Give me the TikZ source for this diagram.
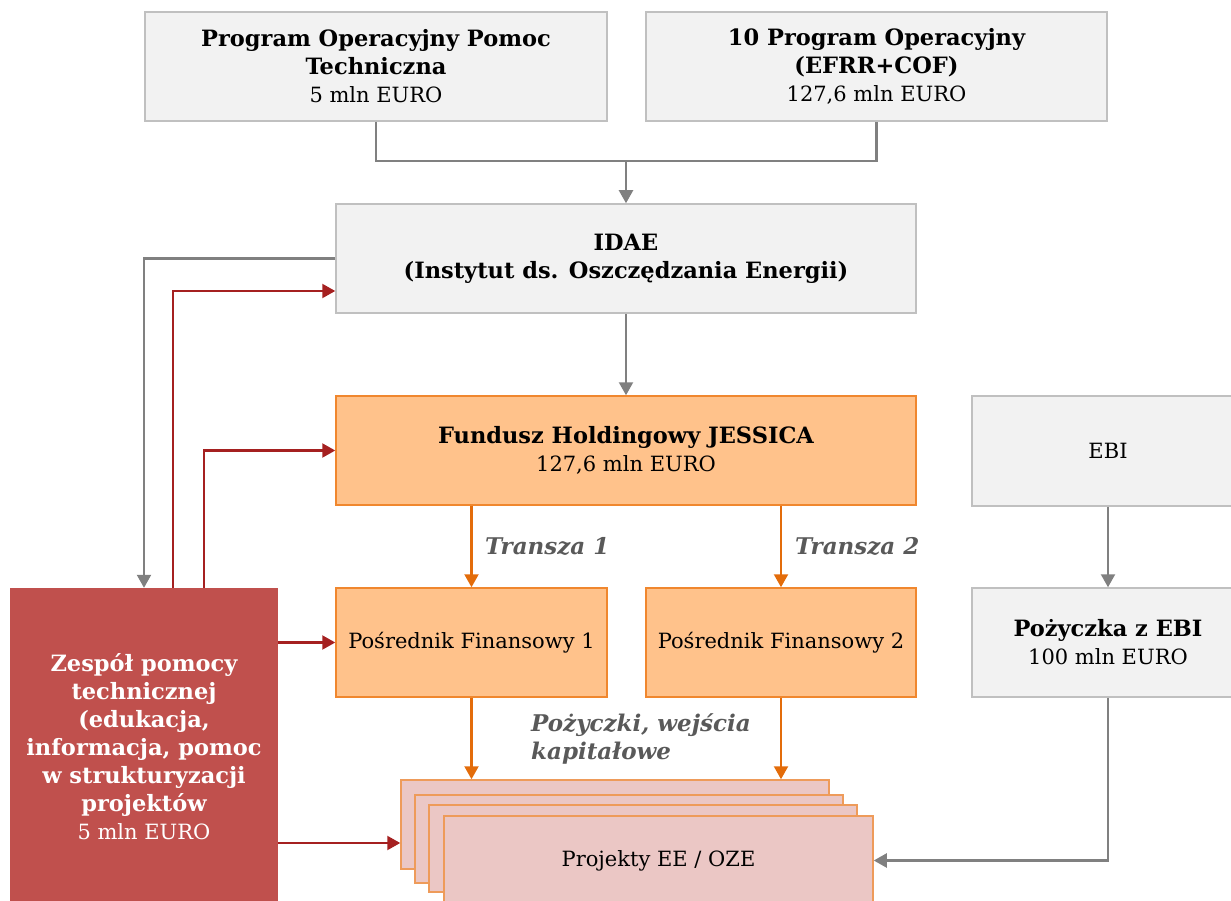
\documentclass[tikz,border=0pt]{standalone}
\usepackage{fontspec}
\setmainfont{DejaVu Serif}
\usetikzlibrary{arrows.meta}
\definecolor{boxgray}{HTML}{F2F2F2}
\definecolor{bordergray}{HTML}{C0C0C0}
\definecolor{orfill}{HTML}{FFC28B}
\definecolor{orborder}{HTML}{F0872E}
\definecolor{orarrow}{HTML}{E36C0A}
\definecolor{pinkfill}{HTML}{EBC7C5}
\definecolor{pinkborder}{HTML}{EE9B5A}
\definecolor{redbox}{HTML}{C0504D}
\definecolor{redarrow}{HTML}{A52020}
\definecolor{grayarrow}{HTML}{808080}
\definecolor{labelgray}{HTML}{595959}
\newcommand\bt[1]{{\fontsize{22.5}{28}\selectfont\bfseries #1}}
\tikzset{
  x=1pt, y=-1pt,
  every node/.style={font=\fontsize{21}{28}\selectfont, align=center, inner sep=0pt},
  gbox/.style={draw=bordergray, fill=boxgray, line width=1.5pt},
  obox/.style={draw=orborder, fill=orfill, line width=1.5pt},
  pbox/.style={draw=pinkborder, fill=pinkfill, line width=1.5pt},
  rbox/.style={fill=redbox, text=white},
  tip/.style={-{Triangle[length=13pt,width=14pt]}},
  garr/.style={draw=grayarrow, line width=2.2pt, tip},
  gline/.style={draw=grayarrow, line width=2.2pt},
  oarr/.style={draw=orarrow, line width=2.2pt, tip},
  rarr/.style={draw=redarrow, line width=2.2pt, tip},
  lbl/.style={text=labelgray, font=\fontsize{23}{28}\selectfont\bfseries\itshape, align=left}
}
\begin{document}
\begin{tikzpicture}
\useasboundingbox (0,0) rectangle (1231,901);
% top boxes
\node[gbox, minimum width=462pt, minimum height=109pt] (a) at (376,66.5)
  {\bt{Program Operacyjny Pomoc}\\\bt{Techniczna}\\5 mln EURO};
\node[gbox, minimum width=461pt, minimum height=109pt] (b) at (876.5,66.5)
  {\bt{10 Program Operacyjny}\\\bt{(EFRR+COF)}\\127,6 mln EURO};
\node[gbox, minimum width=580pt, minimum height=109pt] (idae) at (626,258.5)
  {\bt{IDAE}\\\bt{(Instytut ds. Oszczędzania Energii)}};
\node[obox, minimum width=580pt, minimum height=109pt] (jes) at (626,450.5)
  {\bt{Fundusz Holdingowy JESSICA}\\127,6 mln EURO};
\node[obox, minimum width=271pt, minimum height=109pt] (pf1) at (471.5,642.5)
  {Pośrednik Finansowy 1};
\node[obox, minimum width=270pt, minimum height=109pt] (pf2) at (781,642.5)
  {Pośrednik Finansowy 2};
\node[gbox, minimum width=272pt, minimum height=110pt] (ebi) at (1108,451)
  {EBI};
\node[gbox, minimum width=272pt, minimum height=109pt] (poz) at (1108,642.5)
  {\bt{Pożyczka z EBI}\\100 mln EURO};
% project stack
\node[pbox, minimum width=428pt, minimum height=89pt] (p1) at (615,824.5) {};
\node[pbox, minimum width=428pt, minimum height=88pt] (p2) at (629,839) {};
\node[pbox, minimum width=428pt, minimum height=87pt] (p3) at (643,848.5) {};
\node[pbox, minimum width=429pt, minimum height=89pt] (p4) at (658.5,860.5) {Projekty EE / OZE};
% red box
\node[rbox, minimum width=268pt, minimum height=317pt] (zes) at (144,746.5)
  {\bt{Zespół pomocy}\\\bt{technicznej}\\\bt{(edukacja,}\\\bt{informacja, pomoc}\\\bt{w strukturyzacji}\\\bt{projektów}\\5 mln EURO};
% connectors top
\coordinate (m) at (626,161);
\draw[gline] (a.south) |- (m) -| (b.south);
\draw[garr] (m) -- (idae.north);
\draw[garr] (idae.south) -- (jes.north);
\draw[garr] (idae.west) -| (zes.north);
% red connectors
\draw[rarr] ([xshift=29pt]zes.north) |- ([yshift=-32.5pt]idae.west);
\draw[rarr] ([xshift=60pt]zes.north) |- (jes.west);
\draw[rarr] (zes.east |- pf1.west) -- (pf1.west);
\draw[rarr] ([yshift=-96.5pt]zes.east) -- ([yshift=-18.5pt]p1.west);
% orange
\draw[oarr] (jes.south -| pf1.north) -- (pf1.north);
\draw[oarr] (jes.south -| pf2.north) -- (pf2.north);
\draw[oarr] (pf1.south) -- (pf1.south |- p1.north);
\draw[oarr] (pf2.south) -- (pf2.south |- p1.north);
% EBI
\draw[garr] (ebi.south) -- (poz.north);
\draw[garr] (poz.south) |- (p4.east);
% labels
\node[lbl, anchor=west] (t1) at (485,546) {Transza 1};
\node[lbl, anchor=west] (t2) at (795,546) {Transza 2};
\node[lbl, anchor=north west] (pk) at (531,713) {Pożyczki, wejścia\\kapitałowe};
\end{tikzpicture}
\end{document}
